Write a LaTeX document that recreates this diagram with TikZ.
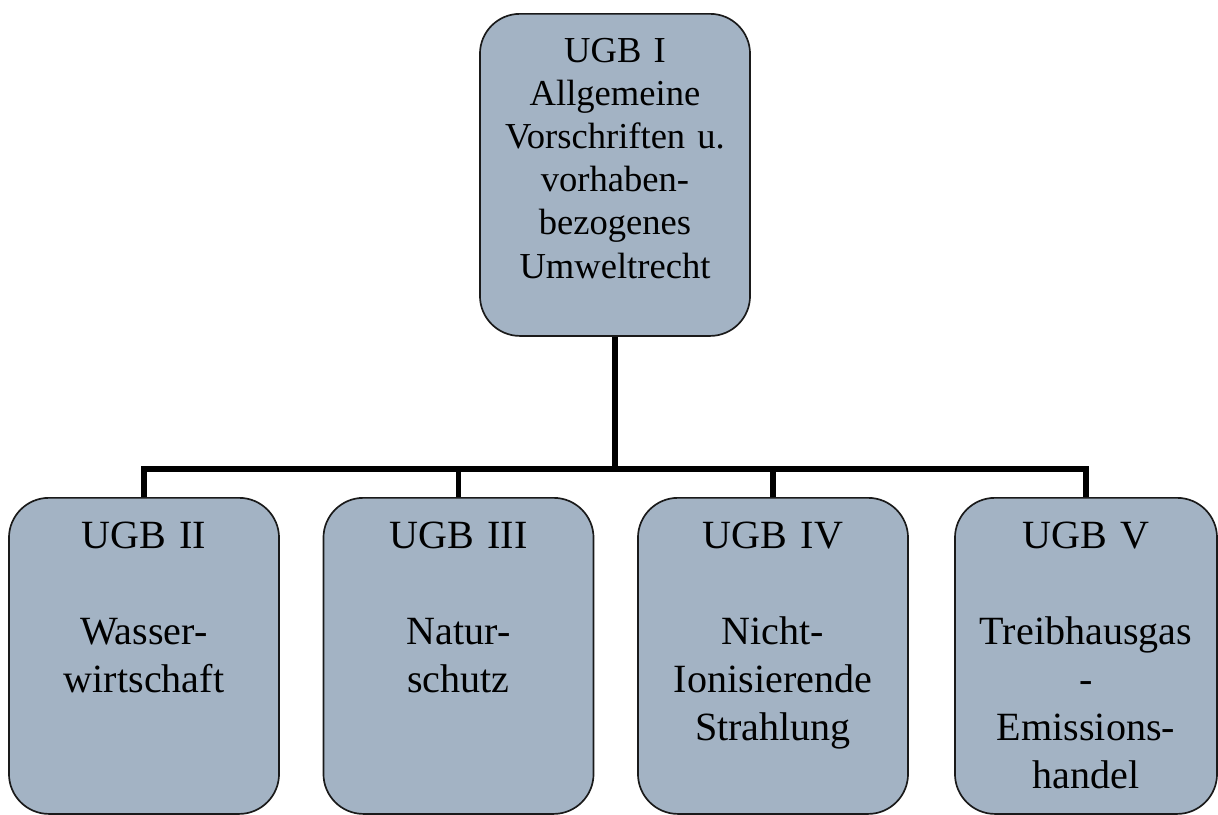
\documentclass[tikz,border=0pt]{standalone}
\usepackage{fontspec}
\setmainfont{Liberation Serif}
\definecolor{ugbfill}{HTML}{A3B3C4}
\definecolor{ugbline}{HTML}{1A1A1A}
\usepackage{tikz}
\usetikzlibrary{positioning}

\begin{document}
\begin{tikzpicture}[
  x=0.025cm, y=-0.025cm,
  ugbbox/.style={rounded corners=1cm, draw=ugbline, line width=1.2pt, fill=ugbfill,
    anchor=north, align=center, inner sep=0pt, text width=6.75cm},
  mainbox/.style={ugbbox, font=\fontsize{26}{30.6}\selectfont,
    text height=1.225cm, text depth=6.825cm},
  subbox/.style={ugbbox, font=\fontsize{28.5}{34.1}\selectfont,
    text height=1.275cm, text depth=6.625cm},
  link/.style={line width=3.6pt}
]
  \useasboundingbox (0,0) rectangle (1218,815);

  % Top level
  \node[mainbox] (ugbi) at (615,13) {UGB I\\Allgemeine\\Vorschriften u.\\vorhaben-\\bezogenes\\Umweltrecht};

  % Books below
  \node[subbox] (ugbii) at (144,497) {UGB II\\[34.1pt]Wasser-\\wirtschaft};
  \node[subbox] (ugbiii) at (458.5,497) {UGB III\\[34.1pt]Natur-\\schutz};
  \node[subbox] (ugbiv) at (773,497) {UGB IV\\[34.1pt]Nicht-\\Ionisierende\\Strahlung};
  \node[subbox, text width=6.55cm] (ugbv) at (1086,497) {UGB V\\[34.1pt]Treibhausgas\\-\\Emissions-\\handel};

  % Connectors
  \coordinate (bus) at (615,469);
  \draw[link] (ugbi.south) -- (bus);
  \draw[link] (bus) -| (ugbii.north);
  \draw[link] (bus) -| (ugbiii.north);
  \draw[link] (bus) -| (ugbiv.north);
  \draw[link] (bus) -| (ugbv.north);
\end{tikzpicture}
\end{document}
